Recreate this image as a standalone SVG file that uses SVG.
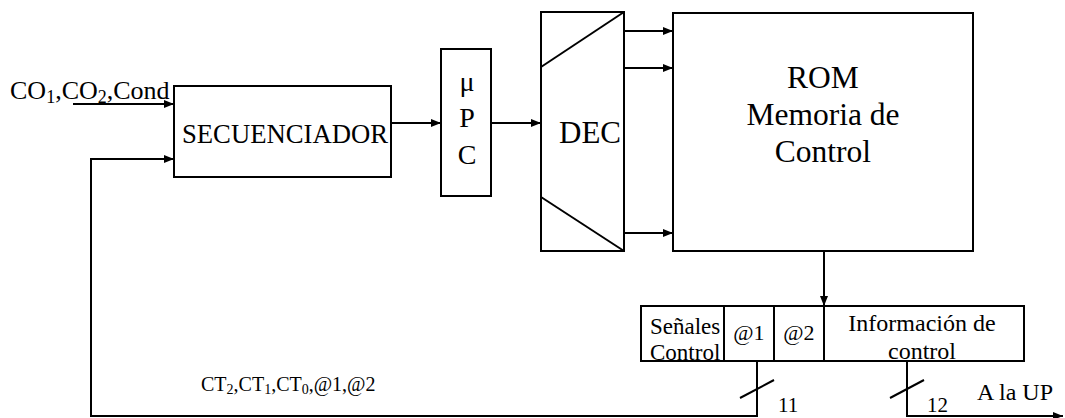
<svg xmlns="http://www.w3.org/2000/svg" width="1065" height="418" viewBox="0 0 1065 418">
<style>
.b{fill:#fff;stroke:#000;stroke-width:2}
.l{fill:none;stroke:#000;stroke-width:2}
text{font-family:"Liberation Serif","Times New Roman",serif;fill:#000}
.m{text-anchor:middle}
</style>
<defs>
<marker id="a" markerWidth="10" markerHeight="8" refX="10" refY="4" orient="auto" markerUnits="userSpaceOnUse">
<path d="M0,0 L10,4 L0,8 Z" fill="#000"/>
</marker>
</defs>
<rect width="1065" height="418" fill="#fff"/>
<g id="connectors">
<line class="l" x1="73" y1="104" x2="174" y2="104" marker-end="url(#a)"/>
<polyline class="l" points="757,361 757,416 91,416 91,159 174,159" marker-end="url(#a)"/>
<line class="l" x1="391" y1="123" x2="441" y2="123" marker-end="url(#a)"/>
<line class="l" x1="491" y1="123" x2="541" y2="123" marker-end="url(#a)"/>
<line class="l" x1="624" y1="31" x2="673" y2="31" marker-end="url(#a)"/>
<line class="l" x1="624" y1="68" x2="673" y2="68" marker-end="url(#a)"/>
<line class="l" x1="624" y1="233" x2="673" y2="233" marker-end="url(#a)"/>
<line class="l" x1="824" y1="251" x2="824" y2="306" marker-end="url(#a)"/>
<polyline class="l" points="907,361 907,416 1063,416" marker-end="url(#a)"/>
<line class="l" x1="740" y1="398" x2="774" y2="380"/>
<line class="l" x1="890" y1="398" x2="924" y2="380"/>
</g>
<g id="labels">
<text font-size="26" x="10" y="99">CO<tspan font-size="18" dy="4">1</tspan><tspan dy="-4">,CO</tspan><tspan font-size="18" dy="4">2</tspan><tspan dy="-4">,Cond</tspan></text>
<text font-size="20" x="201" y="391">CT<tspan font-size="14" dy="3">2</tspan><tspan dy="-3">,CT</tspan><tspan font-size="14" dy="3">1</tspan><tspan dy="-3">,CT</tspan><tspan font-size="14" dy="3">0</tspan><tspan dy="-3">,@1,@2</tspan></text>
<text font-size="21" x="778" y="412">11</text>
<text font-size="21" x="927" y="412">12</text>
<text font-size="24" x="977" y="400">A la UP</text>
</g>
<g id="secuenciador">
<rect class="b" x="174" y="86" width="217" height="91"/>
<text class="m" font-size="26.7" x="285" y="143">SECUENCIADOR</text>
</g>
<g id="upc">
<rect class="b" x="441" y="49" width="50" height="147"/>
<text class="m" font-size="28" x="467" y="91">μ</text>
<text class="m" font-size="28" x="467" y="127">P</text>
<text class="m" font-size="28" x="467" y="164">C</text>
</g>
<g id="dec">
<rect class="b" x="541" y="12" width="83" height="239"/>
<line class="l" x1="541" y1="67" x2="624" y2="12"/>
<line class="l" x1="541" y1="197" x2="624" y2="251"/>
<text class="m" font-size="31" x="590" y="143">DEC</text>
</g>
<g id="rom">
<rect class="b" x="673" y="13" width="300" height="238"/>
<text class="m" font-size="31.5" x="823" y="88">ROM</text>
<text class="m" font-size="31.5" x="823" y="125">Memoria de</text>
<text class="m" font-size="31.5" x="823" y="162">Control</text>
</g>
<g id="registro">
<rect class="b" x="641" y="306" width="383" height="55"/>
<line class="l" x1="724" y1="306" x2="724" y2="361"/>
<line class="l" x1="774" y1="306" x2="774" y2="361"/>
<line class="l" x1="824" y1="306" x2="824" y2="361"/>
<text font-size="23" x="650" y="334">Señales</text>
<text font-size="23" x="650" y="360">Control</text>
<text class="m" font-size="22" x="749" y="340">@1</text>
<text class="m" font-size="22" x="799" y="340">@2</text>
<text class="m" font-size="24" x="922" y="331">Información de</text>
<text class="m" font-size="24" x="922" y="359">control</text>
<line class="l" x1="641" y1="361" x2="1024" y2="361"/>
</g>
</svg>
